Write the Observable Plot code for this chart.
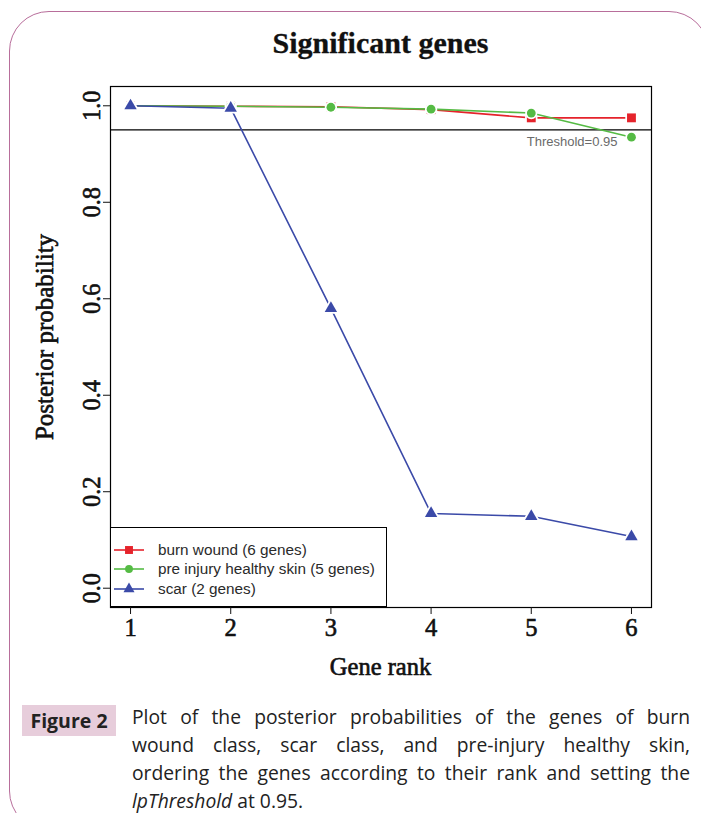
<!DOCTYPE html>
<html>
<head>
<meta charset="utf-8">
<script src="https://cdn.jsdelivr.net/npm/d3@7"></script>
<script src="https://cdn.jsdelivr.net/npm/@observablehq/plot@0.6"></script>
<style>
  body { margin: 0; background: #fff; }
  #wrap { position: relative; width: 701px; height: 813px; overflow: hidden; background: #fff; }
  #border { position: absolute; left: 9px; top: 11px; width: 700px; height: 820px; box-sizing: border-box;
            border: 1.5px solid #b86e9b; border-radius: 40px; }
  #chart { position: absolute; left: 0; top: 0; }
  #chart g[aria-label$="tick label"] { stroke: #111; stroke-width: 0.6px; }
  .serif { font-family: "Liberation Serif", "DejaVu Serif", serif; color: #111; -webkit-text-stroke: 0.65px #111; }
  #title { position: absolute; left: 0; width: 761px; top: 26px; text-align: center; font-size: 30px; font-weight: bold; -webkit-text-stroke: 0.3px #111; }
  #ylab { position: absolute; left: 45px; top: 337px; transform: translate(-50%, -50%) rotate(-90deg); white-space: nowrap; font-size: 25px; }
  #xlab { position: absolute; left: 0; width: 761px; top: 653px; text-align: center; font-size: 24.5px; }
  #legend { position: absolute; left: 110px; top: 527px; width: 277px; height: 80px; box-sizing: border-box;
            border: 1px solid #000; background: #fff; font-family: "Liberation Sans", Arial, sans-serif; font-size: 15.3px; color: #2a2a2a; }
  .lrow { position: absolute; left: 0; height: 20px; display: flex; align-items: center; }
  .lrow svg { margin-left: 2px; }
  .lrow span { margin-left: 13px; white-space: nowrap; }
  #figlab { position: absolute; left: 22px; top: 705px; width: 94px; height: 31px; background: #e7cddb;
            font-family: "Open Sans", "Noto Sans", sans-serif; font-weight: bold; font-size: 19.5px; color: #222;
            display: flex; align-items: center; justify-content: center; }
  #cap { position: absolute; left: 132px; top: 703px; width: 558px; font-family: "Open Sans", "Noto Sans", sans-serif; font-size: 19.3px; color: #222; line-height: 28px; }
  #cap div { text-align: justify; text-align-last: justify; white-space: nowrap; }
  #cap div.last { text-align-last: left; }
</style>
</head>
<body>
<div id="wrap">
  <div id="border"></div>
  <div id="title" class="serif">Significant genes</div>
  <div id="chart"></div>
  <div id="ylab" class="serif">Posterior probability</div>
  <div id="xlab" class="serif">Gene rank</div>
  <div id="legend"></div>
  <div id="figlab">Figure 2</div>
  <div id="cap"></div>
</div>
<script>
// ---- data ----
const ranks = [1, 2, 3, 4, 5, 6];
const burnWound = [1.000, 0.999, 0.998, 0.992, 0.975, 0.975];
const preInjury = [1.000, 0.999, 0.997, 0.993, 0.985, 0.935];
const scar      = [1.000, 0.995, 0.580, 0.155, 0.149, 0.107];
const seriesNames = ["burn wound (6 genes)", "pre injury healthy skin (5 genes)", "scar (2 genes)"];
const seriesColors = ["#e5232b", "#55bb44", "#3b4aa8"];
const seriesSymbols = ["square", "circle", "triangle"];
const threshold = 0.95;
const thresholdLabel = "Threshold=0.95";
const xTicks = [1, 2, 3, 4, 5, 6];
const yTicks = [0, 0.2, 0.4, 0.6, 0.8, 1.0];
const captionLines = [
  "Plot of the posterior probabilities of the genes of burn",
  "wound class, scar class, and pre-injury healthy skin,",
  "ordering the genes according to their rank and setting the"
];

const seriesValues = [burnWound, preInjury, scar];
const symbolR = [5, 4.4, 4.6];

const serif = "Liberation Serif";
const marks = [Plot.ruleY([threshold], {stroke: "#000", strokeWidth: 1.3})];
seriesValues.forEach((vals, i) => {
  const rows = ranks.map((r, j) => ({rank: r, p: vals[j]}));
  marks.push(Plot.line(rows, {x: "rank", y: "p", stroke: seriesColors[i], strokeWidth: 1.6}));
  marks.push(Plot.dot(rows, {x: "rank", y: "p", symbol: seriesSymbols[i], r: symbolR[i],
    fill: seriesColors[i], stroke: "#fff", strokeWidth: 3.5, paintOrder: "stroke"}));
});
marks.push(Plot.text([thresholdLabel], {x: () => ranks[ranks.length - 1], y: () => threshold,
  text: d => d, textAnchor: "end", dx: -14, dy: 12, fill: "#6a6a6a", fontSize: 13,
  fontFamily: "Liberation Sans"}));
marks.push(Plot.frame({stroke: "#000", strokeWidth: 1.2}));
marks.push(Plot.axisX({ticks: xTicks, tickFormat: d3.format("d"), tickSize: 7, tickPadding: 4, fontSize: 24.5,
  fontFamily: serif, fill: "#111", label: null}));
marks.push(Plot.axisY({ticks: yTicks, tickFormat: d3.format(".1f"), tickRotate: -90, tickSize: 7,
  tickPadding: 4, fontSize: 24.5, fontFamily: serif, fill: "#111", label: null}));

const plot = Plot.plot({
  width: 701,
  height: 690,
  marginLeft: 110,
  marginRight: 50,
  marginTop: 86,
  marginBottom: 83,
  x: {domain: [0.8, 6.2]},
  y: {domain: [-0.04, 1.04]},
  style: {background: "transparent", color: "#111"},
  marks
});
document.getElementById("chart").appendChild(plot);

// legend
const legend = document.getElementById("legend");
const rowTops = [12, 31, 51];
seriesNames.forEach((name, i) => {
  const row = document.createElement("div");
  row.className = "lrow";
  row.style.top = rowTops[i] + "px";
  const sym = d3.symbol(seriesSymbols[i] === "square" ? d3.symbolSquare : seriesSymbols[i] === "circle" ? d3.symbolCircle : d3.symbolTriangle,
    Math.PI * symbolR[i] * symbolR[i] * 0.8)();
  row.innerHTML = `<svg width="32" height="20"><line x1="1" x2="31" y1="10" y2="10" stroke="${seriesColors[i]}" stroke-width="1.6"/>` +
    `<path d="${sym}" transform="translate(16,10)" fill="${seriesColors[i]}"/></svg><span>${name}</span>`;
  legend.appendChild(row);
});

// caption
const cap = document.getElementById("cap");
captionLines.forEach(t => {
  const d = document.createElement("div");
  d.textContent = t;
  cap.appendChild(d);
});
const lastLine = document.createElement("div");
lastLine.className = "last";
lastLine.innerHTML = "<i>lpThreshold</i> at 0.95.";
cap.appendChild(lastLine);
</script>
</body>
</html>
